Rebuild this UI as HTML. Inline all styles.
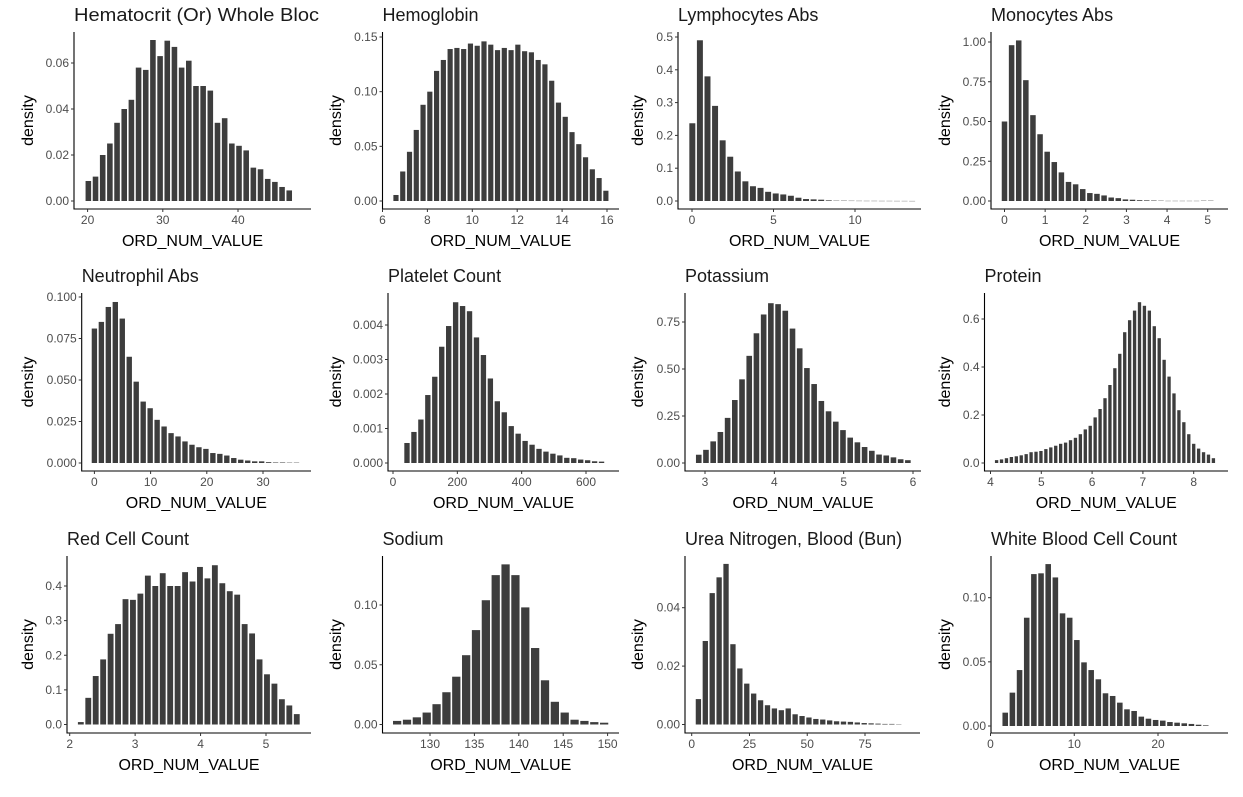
<!DOCTYPE html>
<html><head><meta charset="utf-8">
<style>
html,body{margin:0;padding:0;background:#fff;}
svg{display:block;font-family:"Liberation Sans",Arial,sans-serif;}
</style></head>
<body>
<svg id="chart" width="1243" height="797" viewBox="0 0 1243 797"></svg>
<script>
// ---- data (density values per histogram bin) ----
const titles = ["Hematocrit (Or) Whole Bloc","Hemoglobin","Lymphocytes Abs","Monocytes Abs","Neutrophil Abs","Platelet Count","Potassium","Protein","Red Cell Count","Sodium","Urea Nitrogen, Blood (Bun)","White Blood Cell Count"];
const hctValues = [0.0087,0.0106,0.020,0.025,0.034,0.040,0.044,0.058,0.057,0.070,0.063,0.0697,0.067,0.058,0.061,0.050,0.050,0.048,0.034,0.036,0.025,0.024,0.022,0.0145,0.0138,0.0096,0.0083,0.0061,0.0046];
const hgbValues = [0.0055,0.027,0.045,0.065,0.088,0.10,0.119,0.129,0.139,0.140,0.139,0.144,0.142,0.146,0.143,0.138,0.140,0.138,0.143,0.137,0.136,0.129,0.125,0.110,0.090,0.077,0.063,0.052,0.040,0.029,0.021,0.0094];
const lymValues = [0.237,0.49,0.38,0.29,0.185,0.135,0.09,0.06,0.045,0.04,0.028,0.023,0.02,0.016,0.01,0.006,0.005,0.004,0.002,0.001,0.001,0.0008,0.0006,0.0005,0.0005,0.0004,0.0004,0.0003,0.0003,0.0002];
const monoValues = [0.50,0.98,1.01,0.76,0.54,0.42,0.31,0.245,0.18,0.12,0.105,0.075,0.05,0.045,0.035,0.022,0.018,0.01,0.008,0.005,0.004,0.003,0.002,0.001,0.001,0.001,0.001,0.001,0.002,0.002];
const neutValues = [0.081,0.085,0.094,0.097,0.087,0.064,0.049,0.037,0.033,0.026,0.022,0.018,0.016,0.013,0.011,0.0095,0.0085,0.006,0.0055,0.0045,0.003,0.002,0.0015,0.001,0.001,0.0005,0.0003,0.0003,0.0002,0.0002];
const pltValues = [0.00058,0.0009,0.00126,0.00197,0.0025,0.00337,0.00397,0.00466,0.00455,0.0044,0.00364,0.00313,0.00245,0.00179,0.00147,0.00107,0.00085,0.00064,0.00053,0.00041,0.00033,0.00027,0.00022,0.00015,0.00014,0.0001,0.00008,0.00005,0.00004];
const kValues = [0.044,0.07,0.115,0.165,0.24,0.335,0.445,0.57,0.69,0.79,0.85,0.845,0.81,0.715,0.61,0.505,0.42,0.33,0.275,0.22,0.175,0.135,0.11,0.085,0.065,0.045,0.04,0.03,0.02,0.015];
const protValues = [0.012,0.015,0.02,0.025,0.028,0.032,0.037,0.045,0.047,0.05,0.058,0.065,0.072,0.08,0.085,0.095,0.105,0.12,0.14,0.155,0.19,0.225,0.27,0.325,0.395,0.455,0.545,0.595,0.635,0.67,0.655,0.635,0.57,0.52,0.43,0.36,0.29,0.22,0.17,0.12,0.08,0.06,0.045,0.035,0.02];
const rbcValues = [0.007,0.077,0.14,0.188,0.262,0.29,0.362,0.36,0.378,0.43,0.40,0.437,0.40,0.40,0.44,0.413,0.455,0.422,0.46,0.408,0.385,0.375,0.29,0.263,0.188,0.145,0.118,0.073,0.055,0.03];
const naValues = [0.003,0.004,0.006,0.01,0.017,0.027,0.04,0.058,0.079,0.104,0.125,0.134,0.125,0.098,0.064,0.037,0.019,0.01,0.004,0.003,0.002,0.0015];
const bunValues = [0.0087,0.0286,0.045,0.0504,0.055,0.0275,0.0192,0.014,0.0106,0.0083,0.0066,0.0055,0.0049,0.0055,0.0035,0.0029,0.0024,0.0019,0.0017,0.0014,0.0011,0.001,0.0009,0.0007,0.0005,0.0004,0.0003,0.0002,0.0002,0.0001];
const wbcValues = [0.0104,0.026,0.0436,0.0844,0.1184,0.119,0.1262,0.1158,0.0878,0.0844,0.067,0.0496,0.0436,0.0364,0.0255,0.0234,0.0182,0.013,0.0117,0.0073,0.0057,0.0047,0.0042,0.0031,0.0026,0.0021,0.0016,0.001,0.0005];
const binStarts = [20.1,6.6,0.02,0.0,0.0,43.5,2.91,4.12,2.17,126.3,2.9,1.76];
const binWidths = [0.954,0.3016,0.465,0.175,1.24,21.6,0.104,0.097,0.1138,1.11,2.99,0.855];
const xTicks = [[20,30,40],[6,8,10,12,14,16],[0,5,10],[0,1,2,3,4,5],[0,10,20,30],[0,200,400,600],[3,4,5,6],[4,5,6,7,8],[2,3,4,5],[130,135,140,145,150],[0,25,50,75],[0,10,20]];
const yTickLabels = [["0.00","0.02","0.04","0.06"],["0.00","0.05","0.10","0.15"],["0.0","0.1","0.2","0.3","0.4","0.5"],["0.00","0.25","0.50","0.75","1.00"],["0.000","0.025","0.050","0.075","0.100"],["0.000","0.001","0.002","0.003","0.004"],["0.00","0.25","0.50","0.75"],["0.0","0.2","0.4","0.6"],["0.0","0.1","0.2","0.3","0.4"],["0.00","0.05","0.10"],["0.00","0.02","0.04"],["0.00","0.05","0.10"]];
const allValues = [hctValues,hgbValues,lymValues,monoValues,neutValues,pltValues,kValues,protValues,rbcValues,naValues,bunValues,wbcValues];

// ---- layout (pixel calibration of each panel) ----
const layout = [
 {l:74,r:311,t:32,b:209,xa:[20,87.6,40,238],ya:[201,0.06,63],yl:28},
 {l:382.5,r:619,t:32,b:209,xa:[6,382.5,16,607],ya:[201,0.15,37],yl:336},
 {l:678,r:921,t:32,b:209,xa:[0,692,10,855],ya:[201,0.5,37],yl:638},
 {l:991,r:1228,t:32,b:209,xa:[0,1004.5,5,1207.7],ya:[201,1,42],yl:945},
 {l:81.7,r:311,t:293,b:471,xa:[0,94.4,30,263],ya:[463,0.1,297],yl:28},
 {l:388,r:619,t:293,b:471,xa:[0,393,600,586],ya:[463,0.004,325],yl:336},
 {l:685,r:921,t:293,b:471,xa:[3,705,6,913],ya:[463,0.75,322],yl:638},
 {l:984.5,r:1228,t:293,b:471,xa:[4,990.5,8,1193.7],ya:[463,0.6,319],yl:945},
 {l:67,r:311,t:556,b:733,xa:[2,69.7,5,266],ya:[724.5,0.4,586],yl:28},
 {l:382.5,r:619,t:556,b:733,xa:[130,430,150,607.6],ya:[724.5,0.1,605],yl:336},
 {l:685,r:920,t:556,b:733,xa:[0,691.7,75,865],ya:[724.5,0.04,607.7],yl:638},
 {l:991,r:1228,t:556,b:733,xa:[0,990.5,20,1158],ya:[726,0.1,597.7],yl:945}
];

const NS = "http://www.w3.org/2000/svg";
const svg = document.getElementById("chart");
function mk(tag, attrs, parent){ const e=document.createElementNS(NS,tag); for(const k in attrs) e.setAttribute(k,attrs[k]); (parent||svg).appendChild(e); return e; }

allValues.forEach((vals,i)=>{
  const L = layout[i];
  const g = mk("g",{});
  
  
  const xs = v => L.xa[1] + (v - L.xa[0]) * (L.xa[3]-L.xa[1])/(L.xa[2]-L.xa[0]);
  const ys = v => L.ya[0] - v * (L.ya[0]-L.ya[2])/L.ya[1];
  vals.forEach((v,j)=>{
    const c = binStarts[i] + j*binWidths[i];
    const x0 = xs(c - binWidths[i]/2), x1 = xs(c + binWidths[i]/2);
    const y0 = ys(v), yb = ys(0);
    const r = mk("rect",{x:x0+0.8,y:y0,width:Math.max(0.5,x1-x0-1.6),height:Math.max(0.3,yb-y0),fill:"#3d3d3d"},g);
    
    
  });
  const ax = mk("path",{d:`M${L.l},${L.t}V${L.b}H${L.r}`,stroke:"#000",fill:"none","stroke-width":1.1},g);
  
  
  yTickLabels[i].forEach(lab=>{
    const y = ys(parseFloat(lab));
    mk("line",{x1:L.l-3,x2:L.l,y1:y,y2:y,stroke:"#333","stroke-width":1},g);
    const t = mk("text",{x:L.l-5,y:y+4,"text-anchor":"end","font-size":12,fill:"#4d4d4d"},g);
    t.textContent = lab;
    
    
  });
  xTicks[i].forEach(v=>{
    const x = xs(v);
    mk("line",{x1:x,x2:x,y1:L.b,y2:L.b+3,stroke:"#333","stroke-width":1},g);
    const t = mk("text",{x:x,y:L.b+15,"text-anchor":"middle","font-size":12,fill:"#4d4d4d"},g);
    t.textContent = String(v);
    
    
  });
  const ta = {x:L.l,y:L.t-11,"font-size":18,fill:"#1a1a1a"};
  if(i===0){ ta.textLength = 245; ta.lengthAdjust = "spacingAndGlyphs"; }
  const tt = mk("text",ta,g);
  tt.textContent = titles[i];
  
  
  const xt = mk("text",{x:(L.l+L.r)/2,y:L.b+37,"text-anchor":"middle","font-size":16,fill:"#000"},g);
  xt.textContent = "ORD_NUM_VALUE";
  
  
  const ym = (L.t+L.b)/2;
  const yt = mk("text",{x:L.yl+5,y:ym,"text-anchor":"middle","font-size":16,fill:"#000",transform:`rotate(-90 ${L.yl+5} ${ym})`},g);
  yt.textContent = "density";
  
  
});
</script>
</body></html>
